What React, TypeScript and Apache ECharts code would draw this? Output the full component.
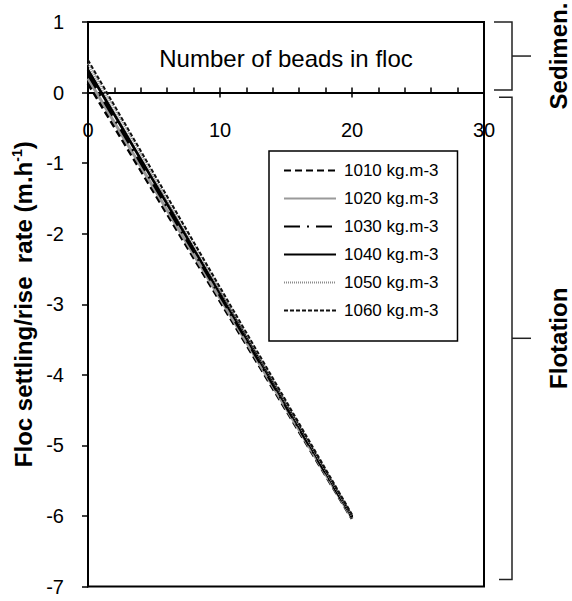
import React, { useEffect, useRef } from "react";
import * as echarts from "echarts";

// ---- data ----
const beadCounts = [0, 20];
const seriesNames = [
  "1010 kg.m-3",
  "1020 kg.m-3",
  "1030 kg.m-3",
  "1040 kg.m-3",
  "1050 kg.m-3",
  "1060 kg.m-3",
];
const rate1010 = [0.13, -6.04];
const rate1020 = [0.2, -6.03];
const rate1030 = [0.26, -6.02];
const rate1040 = [0.32, -6.01];
const rate1050 = [0.41, -6.0];
const rate1060 = [0.46, -5.98];
const xMin = 0;
const xMax = 30;
const xStep = 10;
const yMin = -7;
const yMax = 1;
const yStep = 1;
const regionLabels = ["Sedimen.", "Flotation"];
const regionTop = [1, -0.065];
const regionBottom = [0.035, -6.9];
const xTitle = "Number of beads in floc";

export default function App() {
  const ref = useRef<HTMLDivElement>(null);

  useEffect(() => {
    if (!ref.current) return;
    const chart = echarts.init(ref.current, null, { renderer: "svg" });
    const font = "'Liberation Sans', Arial, Helvetica, sans-serif";
    const rates = [rate1010, rate1020, rate1030, rate1040, rate1050, rate1060];
    const styles: any[] = [
      { color: "#000000", width: 3, type: [7, 4] },
      { color: "#9a9a9a", width: 3, type: "solid" },
      { color: "#000000", width: 2.8, type: [16, 7, 2, 7] },
      { color: "#000000", width: 2.8, type: "solid" },
      { color: "#8c8c8c", width: 2.5, type: [1, 1] },
      { color: "#111111", width: 2, type: [4, 2] },
    ];

    const series = seriesNames.map((name, i) => ({
      name,
      type: "line",
      symbol: "none",
      showSymbol: false,
      silent: true,
      color: styles[i].color,
      lineStyle: styles[i],
      data: beadCounts.map((x, j) => [x, rates[i][j]]),
      z: 3 + i,
    }));

    const tickLabel = { color: "#000", fontSize: 20, fontFamily: font };

    const xAxes = (offBottom: number, offTop: number) => [
      {
        type: "value",
        min: xMin,
        max: xMax,
        interval: xStep,
        position: "bottom",
        offset: offBottom,
        axisLine: { show: true, onZero: false, lineStyle: { color: "#000", width: 2 } },
        axisTick: { show: true, length: 5, lineStyle: { color: "#000", width: 1.5 } },
        minorTick: { show: false },
        splitLine: { show: false },
        axisLabel: { ...tickLabel, margin: 27, showMinLabel: true, showMaxLabel: true },
      },
      {
        type: "value",
        min: xMin,
        max: xMax,
        interval: xStep,
        position: "top",
        offset: offTop,
        name: xTitle,
        nameLocation: "middle",
        nameGap: 22,
        nameTextStyle: { color: "#000", fontSize: 24, fontFamily: font },
        axisLine: { show: true, onZero: false, lineStyle: { color: "#000", width: 2 } },
        axisTick: { show: true, length: 5, lineStyle: { color: "#000", width: 1.5 } },
        minorTick: {
          show: true,
          splitNumber: 5,
          length: 5,
          lineStyle: { color: "#000", width: 1.5 },
        },
        splitLine: { show: false },
        minorSplitLine: { show: false },
        axisLabel: { show: false },
      },
    ];

    chart.setOption({
      animation: false,
      backgroundColor: "#ffffff",
      grid: {
        left: 88,
        top: 22,
        right: 88,
        bottom: 14.5,
        show: true,
        borderColor: "#000",
        borderWidth: 2,
        backgroundColor: "transparent",
        containLabel: false,
        outerBoundsMode: "none",
      },
      legend: {
        data: seriesNames,
        orient: "vertical",
        left: 269,
        top: 151,
        padding: [11, 19, 22, 14],
        borderColor: "#000",
        borderWidth: 1.5,
        backgroundColor: "#fff",
        itemWidth: 52,
        itemHeight: 18,
        itemGap: 11,
        selectedMode: false,
        itemStyle: { opacity: 0 },
        textStyle: {
          color: "#000",
          fontSize: 17,
          fontFamily: font,
          padding: [0, 0, 0, 3],
        },
      },
      xAxis: xAxes(0, 0),
      yAxis: {
        type: "value",
        min: yMin,
        max: yMax,
        interval: yStep,
        name: "{a|Floc settling/rise  rate (m.h}{s|-1}{a|)}",
        nameLocation: "middle",
        nameGap: 50,
        nameTextStyle: {
          rich: {
            a: { color: "#000", fontSize: 24, fontWeight: "bold", fontFamily: font, lineHeight: 26 },
            s: {
              color: "#000",
              fontSize: 14,
              fontWeight: "bold",
              fontFamily: font,
              verticalAlign: "top",
              lineHeight: 14,
            },
          },
        },
        axisLine: { show: true, onZero: false, lineStyle: { color: "#000", width: 2 } },
        axisTick: { show: true, length: 6, lineStyle: { color: "#000", width: 1.5 } },
        splitLine: { show: false },
        axisLabel: { ...tickLabel, margin: 24 },
      },
      series,
    });

    // place both x axes on the y = 0 line, measured through the y scale
    const toY = (v: number) => chart.convertToPixel({ yAxisIndex: 0 }, v) as number;
    const yTopPx = toY(yMax);
    const yBottomPx = toY(yMin);
    const yZeroPx = toY(0);
    chart.setOption({ xAxis: xAxes(-(yBottomPx - yZeroPx), -(yZeroPx - yTopPx)) });

    // right-hand bracket annotations, placed through the y axis scale
    const bracketOuter = [494, 499];
    const bracketX = 512;
    const tickEnd = 531;
    const textX = 558;
    const graphic: any[] = [];
    regionLabels.forEach((label, i) => {
      const y0 = toY(regionTop[i]);
      const y1 = toY(regionBottom[i]);
      const ym = (y0 + y1) / 2;
      graphic.push({
        type: "polyline",
        shape: {
          points: [
            [bracketOuter[i], y0],
            [bracketX, y0],
            [bracketX, y1],
            [bracketOuter[i], y1],
          ],
        },
        style: { stroke: "#222", lineWidth: 1.5, fill: null },
        silent: true,
      });
      graphic.push({
        type: "line",
        shape: { x1: bracketX, y1: ym, x2: tickEnd, y2: ym },
        style: { stroke: "#222", lineWidth: 1.5 },
        silent: true,
      });
      graphic.push({
        type: "text",
        x: textX,
        y: ym,
        rotation: Math.PI / 2,
        style: {
          text: label,
          fill: "#000",
          fontSize: 24,
          fontWeight: "bold",
          fontFamily: font,
          align: "center",
          verticalAlign: "middle",
        },
        silent: true,
      });
    });
    chart.setOption({ graphic });

    return () => chart.dispose();
  }, []);

  return (
    <div
      ref={ref}
      style={{ position: "fixed", left: 0, top: 0, width: 572, height: 601, background: "#fff" }}
    />
  );
}
